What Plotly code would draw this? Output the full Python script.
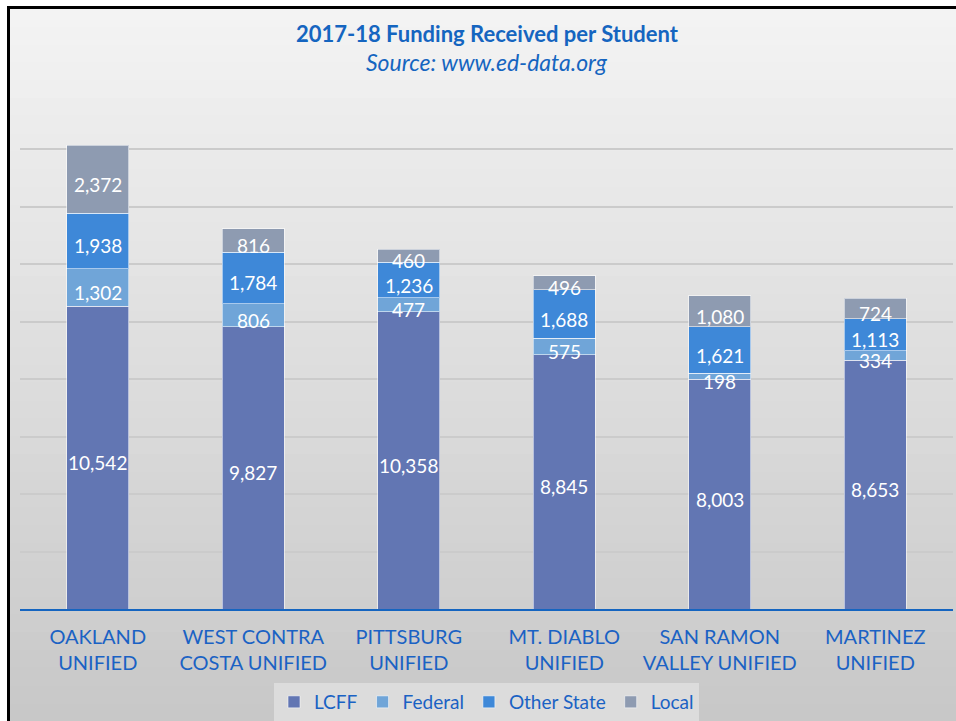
import plotly.graph_objects as go

districts = ["OAKLAND<br>UNIFIED", "WEST CONTRA<br>COSTA UNIFIED", "PITTSBURG<br>UNIFIED",
             "MT. DIABLO<br>UNIFIED", "SAN RAMON<br>VALLEY UNIFIED", "MARTINEZ<br>UNIFIED"]
lcff = [10542, 9827, 10358, 8845, 8003, 8653]
federal = [1302, 806, 477, 575, 198, 334]
other_state = [1938, 1784, 1236, 1688, 1621, 1113]
local = [2372, 816, 460, 496, 1080, 724]

series = [
    ("LCFF", lcff, "#6276b3"),
    ("Federal", federal, "#70a5d8"),
    ("Other State", other_state, "#3e88d8"),
    ("Local", local, "#8e9bb1"),
]

# plot area x 20..953 px, y 92..609 px
L, R, T, B = 20, 953, 92, 609
W, H = R - L, B - T
def px(x): return (x - L) / W
def py(y): return (B - y) / H

fig = go.Figure()
base = [0] * len(districts)
annotations = []
for name, vals, col in series:
    fig.add_trace(go.Bar(
        x=districts, y=vals, name=name,
        marker=dict(color=col, line=dict(color="rgba(255,255,255,0.55)", width=1)),
        hoverinfo="x+y+name",
    ))
    for i, v in enumerate(vals):
        annotations.append(dict(
            x=districts[i], y=base[i] + v / 2, xref="x", yref="y",
            text=f"{v:,}", showarrow=False, yshift=-5,
            font=dict(color="white", size=19, family="Lato"),
        ))
        base[i] += v

shapes = []
n = 40
top_c = (244, 244, 244)
bot_c = (200, 200, 200)
for i in range(n):
    y0 = 9 + (721 - 9) * i / n
    y1 = 9 + (721 - 9) * (i + 1) / n + 1
    t = (i + 0.5) / n
    c = tuple(int(top_c[k] + (bot_c[k] - top_c[k]) * t) for k in range(3))
    shapes.append(dict(type="rect", xref="paper", yref="paper", layer="below",
                       x0=px(10), x1=px(960), y0=py(y1), y1=py(y0),
                       fillcolor="rgb(%d,%d,%d)" % c, line=dict(width=0)))
# black frame lines top and left
shapes.append(dict(type="rect", xref="paper", yref="paper", layer="above",
                   x0=px(7), x1=px(960), y0=py(9), y1=py(6),
                   fillcolor="black", line=dict(width=0)))
shapes.append(dict(type="rect", xref="paper", yref="paper", layer="above",
                   x0=px(7), x1=px(10), y0=py(725), y1=py(6),
                   fillcolor="black", line=dict(width=0)))

annotations += [
    dict(text="<b>2017-18 Funding Received per Student</b>", xref="paper", yref="paper",
         x=px(487), y=py(33), showarrow=False, xanchor="center", yanchor="middle",
         font=dict(size=22, color="#1565c0", family="Lato")),
    dict(text="<i>Source: www.ed-data.org</i>", xref="paper", yref="paper",
         x=px(487), y=py(62), showarrow=False, xanchor="center", yanchor="middle",
         font=dict(size=23, color="#1565c0", family="Lato")),
]

fig.update_layout(
    width=956, height=721,
    barmode="stack", bargap=0.6,
    paper_bgcolor="white", plot_bgcolor="rgba(0,0,0,0)",
    margin=dict(l=L, r=956 - R, t=T, b=721 - B, autoexpand=False),
    shapes=shapes,
    annotations=annotations,
    showlegend=True,
    legend=dict(orientation="h", x=0.5, xanchor="center", y=py(702), yanchor="middle",
                bgcolor="#dcdcdc", font=dict(color="#1a62c4", size=19, family="Lato"),
                traceorder="normal", itemwidth=30),
    xaxis=dict(showline=True, linecolor="#1565c0", linewidth=2, automargin=False,
               tickfont=dict(color="#1a62c4", size=20, family="Lato"), ticks="",
               ticklabelstandoff=9),
    yaxis=dict(range=[0, 18000], dtick=2000, showticklabels=False, gridcolor="#cbcbcb",
               gridwidth=1.5, zeroline=False, automargin=False),
)

fig.write_html("out.html", post_script="document.body.style.margin='0';",
               config={"displayModeBar": False})
